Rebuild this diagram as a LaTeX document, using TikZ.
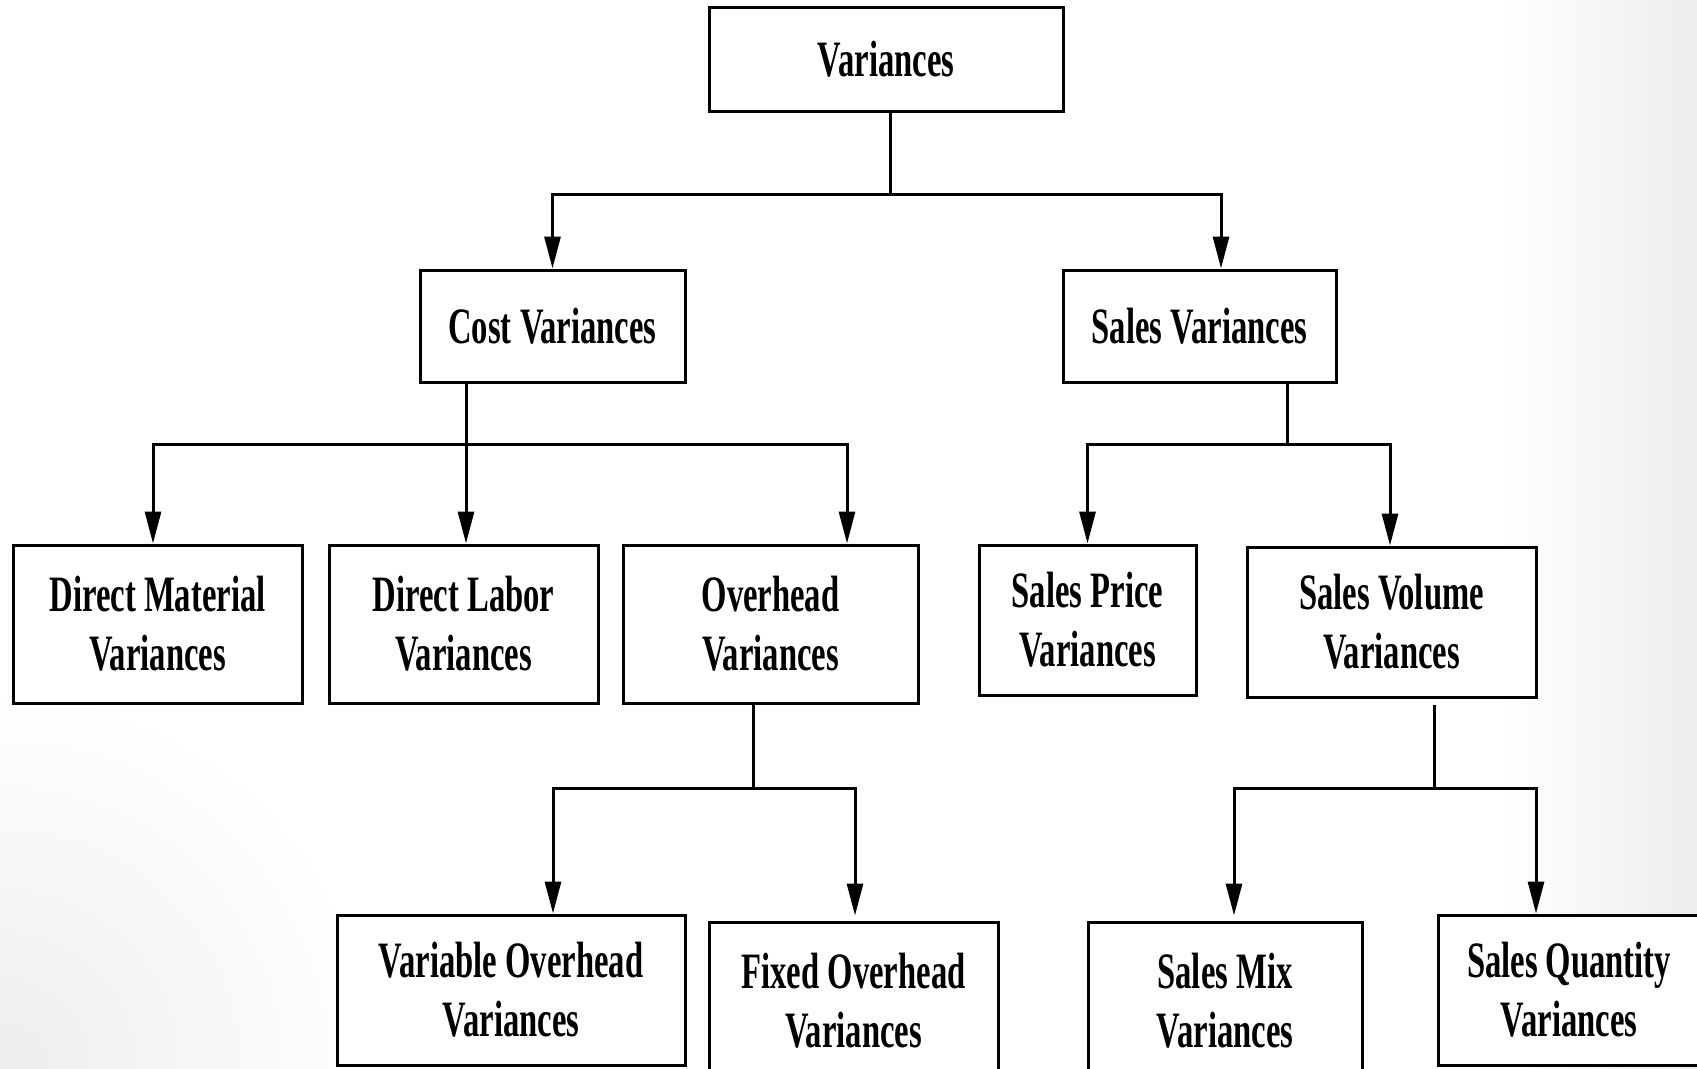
\documentclass[tikz,border=0pt]{standalone}
\usepackage{fontspec}
\newfontfamily\cond[FakeStretch=0.64]{Liberation Serif}
\usetikzlibrary{arrows.meta}
\begin{document}
\begin{tikzpicture}[x=1pt,y=-1pt,
  box/.style={draw, line width=3pt, fill=white, align=center, inner sep=0pt,
    font=\cond\bfseries\fontsize{51}{59}\selectfont},
  link/.style={line width=3pt, line join=miter},
  arr/.style={link, -{Triangle[length=32pt,width=16pt]}}]
\useasboundingbox (0,0) rectangle (1697,1068);
\clip (0,0) rectangle (1697,1068);
\fill[white] (0,0) rectangle (1697,1068);
\shade[left color=white, right color=black!7] (1500,0) rectangle (1697,1068);
\shade[inner color=black!7, outer color=white] (0,1068) circle (380);

% level 1
\node[box, minimum width=354pt, minimum height=104pt] (var) at (886,59) {Variances};
% level 2
\node[box, minimum width=265pt, minimum height=112pt] (cost) at (552.5,326) {Cost Variances};
\node[box, minimum width=273pt, minimum height=112pt] (sales) at (1199.5,326) {Sales Variances};
% level 3
\node[box, minimum width=289pt, minimum height=158pt] (dm) at (157.5,624) {Direct Material\\Variances};
\node[box, minimum width=269pt, minimum height=158pt] (dl) at (463.5,624) {Direct Labor\\Variances};
\node[box, minimum width=295pt, minimum height=158pt] (oh) at (770.5,624) {Overhead\\Variances};
\node[box, minimum width=217pt, minimum height=150pt] (sp) at (1087.5,620) {Sales Price\\Variances};
\node[box, minimum width=289pt, minimum height=150pt] (sv) at (1391.5,622) {Sales Volume\\Variances};
% level 4
\node[box, minimum width=348pt, minimum height=150pt] (vo) at (511,990) {Variable Overhead\\Variances};
\node[box, minimum width=289pt, minimum height=158pt] (fo) at (853.5,1001) {Fixed Overhead\\Variances};
\node[box, minimum width=274pt, minimum height=158pt] (sm) at (1225,1001) {Sales Mix\\Variances};
\node[box, minimum width=262pt, minimum height=150pt] (sq) at (1569,990) {Sales Quantity\\Variances};

% junctions
\coordinate (j1) at (890,194);
\coordinate (j2) at (466,444);
\coordinate (j3) at (1287,444);
\coordinate (j4) at (753,788);
\coordinate (j5) at (1434,788);

% Variances -> Cost / Sales
\draw[link] (var.south -| j1) -- (j1);
\draw[arr] (j1) -| (cost.north);
\draw[arr] (j1) -| ([xshift=21.5pt]sales.north);

% Cost -> DM / DL / OH
\draw[link] (cost.south -| j2) -- (j2);
\draw[arr] (j2) -| ([xshift=-4.5pt]dm.north);
\draw[arr] (j2) -- (dl.north -| j2);
\draw[arr] (j2) -| ([xshift=76.5pt]oh.north);

% Sales -> SP / SV
\draw[link] (sales.south -| j3) -- (j3);
\draw[arr] (j3) -| (sp.north);
\draw[arr] (j3) -| ([xshift=-1.5pt]sv.north);

% Overhead -> VO / FO
\draw[link] (oh.south -| j4) -- (j4);
\draw[arr] (j4) -| ([xshift=42pt]vo.north);
\draw[arr, shorten >=5pt] (j4) -| ([xshift=1.5pt]fo.north);

% Sales Volume -> SM / SQ
\draw[link] ([yshift=-6pt]sv.south -| j5) -- (j5);
\draw[arr, shorten >=5pt] (j5) -| ([xshift=9pt]sm.north);
\draw[arr] (j5) -| ([xshift=-33pt]sq.north);
\end{tikzpicture}
\end{document}
